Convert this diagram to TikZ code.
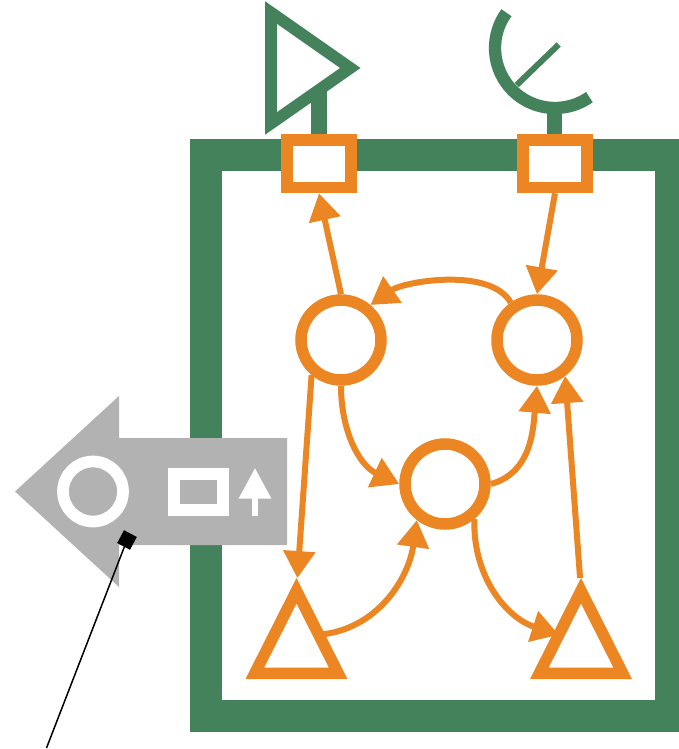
\documentclass[tikz,border=0pt]{standalone}
\usepackage{xcolor}
\usetikzlibrary{shapes,arrows.meta,positioning}
\definecolor{boxgreen}{HTML}{44825C}
\definecolor{netorange}{HTML}{EB8623}
\definecolor{tagray}{HTML}{B2B2B2}
\tikzset{frame/.style={rectangle,draw=boxgreen,line width=32pt,inner sep=0,minimum width=465pt,minimum height=561pt}}
\tikzset{port/.style={rectangle,draw=netorange,fill=white,line width=11.7pt,inner sep=0,minimum width=64.3pt,minimum height=47.5pt}}
\tikzset{ell/.style={circle,draw=netorange,fill=white,line width=11.5pt,inner sep=0,minimum size=80pt}}
\tikzset{tri/.style={isosceles triangle,isosceles triangle stretches,shape border rotate=90,draw=netorange,fill=white,line width=11.5pt,inner sep=0,outer sep=0,minimum width=83.3pt,minimum height=82.5pt,anchor=apex,miter limit=10}}
\tikzset{link/.style={draw=netorange,line width=6pt,-{Triangle[length=27pt,width=31pt]}}}

\begin{document}
\begin{tikzpicture}[x=1pt,y=-1pt]
    \useasboundingbox (0,0) rectangle (679,749);

    \node[frame] (box) at (438.5,435.5) {};

    % antenna on the left port
    \coordinate (hornbase) at (319,134);
    \coordinate (horntop) at (319,44);
    \draw [boxgreen,line width=16pt] (hornbase) -- (horntop);
    \node[isosceles triangle,isosceles triangle stretches,draw=boxgreen,fill=white,line width=11.7pt,inner sep=0,outer sep=0,minimum width=111.1pt,minimum height=79.4pt,anchor=apex,miter limit=10] (horn) at (350.3,68) {};

    % dish on the right port
    \coordinate (dishc) at (555,48);
    \coordinate (dishbase) at (554.5,134);
    \coordinate (dishtop) at (554.5,106);
    \coordinate (feedin) at (516.7,85);
    \coordinate (feedout) at (558.7,44.5);
    \draw [boxgreen,line width=15pt] (dishbase) -- (dishtop);
    \draw [boxgreen,line width=12.3pt] (dishc) ++(144:60pt) arc[start angle=144,end angle=305,radius=60pt];
    \draw [boxgreen,line width=6pt] (feedin) -- (feedout);

    \node[port] (pa) at (319,163.7) {};
    \node[port] (pb) at (555,163.7) {};

    \node[ell] (c1) at (341,340) {};
    \node[ell] (c2) at (537,340) {};
    \node[ell] (c3) at (445,484) {};
    \node[tri] (t1) at (296.5,590.75) {};
    \node[tri] (t2) at (581,590.75) {};

    \draw [link] (c1.north) to (pa.south);
    \draw [link] (pb.south) to (c2.north);
    \draw [link] (c2.125) to [out=120,in=35,looseness=0.75] (c1.50);
    \draw [link,shorten >=12.7pt] (c1.230) to (t1.apex);
    \draw [link] (c1.south) to [out=270,in=155] (c3.west);
    \draw [link] (c3.east) to [out=15,in=265] (c2.south);
    \draw [link] (t1.30) to [out=5,in=262] (c3.232);
    \draw [link] (c3.310) to [out=268,in=162] (t2.150);
    \draw [link,shorten <=12.7pt] (t2.apex) to (c2.308);

    % tag on the left edge
    \fill [tagray] (287,438) -- (119,438) -- (119,396) -- (15,491.5) -- (119,587) -- (119,545) -- (287,545) -- cycle;
    \node[circle,draw=white,line width=11.7pt,inner sep=0,minimum size=60pt] (ring) at (93,491.5) {};
    \node[rectangle,draw=white,line width=11.7pt,inner sep=0,minimum width=48.5pt,minimum height=36pt] (slot) at (198.5,492) {};
    \coordinate (upfoot) at (255,516);
    \coordinate (uptip) at (255,468);
    \draw [white,line width=6pt,-{Triangle[length=30.5pt,width=31pt]}] (upfoot) -- (uptip);

    % pointer
    \node[rectangle,fill=black,rotate=-28,inner sep=0,minimum size=14.5pt] (pin) at (127,540) {};
    \coordinate (pinend) at (46.5,748);
    \draw [black,line width=1.5pt] (pin.center) -- (pinend);
\end{tikzpicture}
\end{document}
